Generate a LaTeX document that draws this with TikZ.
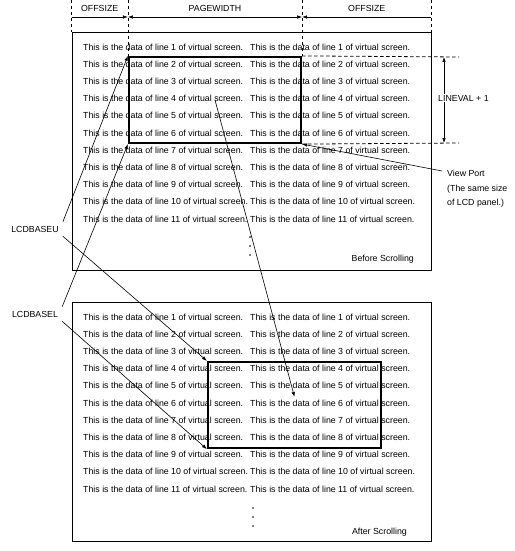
\documentclass[tikz,border=0pt]{standalone}
\usepackage{fontspec}
\setmainfont{Liberation Sans}
\usetikzlibrary{arrows.meta,positioning,calc}
\newcommand{\datafont}{\fontsize{8.8}{10}\selectfont}
\tikzset{
  panel/.style={draw,line width=0.9pt,minimum width=359pt,minimum height=238pt,
                inner sep=0pt},
  viewbox/.style={draw,line width=2.2pt,minimum width=172pt,minimum height=86pt,
                  inner sep=0pt},
  dataline/.style={anchor=west,inner sep=0pt,font=\datafont},
  lbl/.style={font=\datafont,inner sep=2pt},
  guide/.style={dash pattern=on 3.5pt off 2.5pt,line width=0.8pt},
  arr/.style={-{Latex[length=5pt,width=3.5pt]},line width=0.6pt},
  arrb/.style={{Latex[length=5pt,width=3.5pt]}-{Latex[length=5pt,width=3.5pt]},
               line width=0.6pt},
}

\begin{document}
\begin{tikzpicture}[x=1pt,y=-1pt]
  \useasboundingbox (0,0) rectangle (514,551);
  % panels and view ports
  \node[panel] (before) at (251.5,151) {};
  \node[panel,minimum height=239pt] (after) at (251.5,421.5) {};
  \node[viewbox] (vtop) at (215,100) {};
  \node[viewbox,minimum width=173pt] (vbot) at (294.5,405) {};

  % virtual screen data
  \foreach \n in {1,...,11}{
    \node[dataline] (btl\n) at (83,{47+(\n-1)*17.2})
      {This is the data of line {\n} of virtual screen.};
    \node[dataline] (btr\n) at (250,{47+(\n-1)*17.2})
      {This is the data of line {\n} of virtual screen.};
    \node[dataline] (atl\n) at (83,{317+(\n-1)*17.2})
      {This is the data of line {\n} of virtual screen.};
    \node[dataline] (atr\n) at (250,{317+(\n-1)*17.2})
      {This is the data of line {\n} of virtual screen.};
  }
  \foreach \y in {0,9,18}{
    \fill (250,237+\y) circle (0.9pt);
    \fill (253,508+\y) circle (0.9pt);
  }
  \node[lbl,anchor=east] (bscroll) at (416,259) {Before Scrolling};
  \node[lbl,anchor=east] (ascroll) at (409,532) {After Scrolling};

  % dimensions on top
  \coordinate (d0) at (before.north west |- 0,17);
  \coordinate (d1) at (vtop.north west |- 0,17);
  \coordinate (d2) at (vtop.north east |- 0,17);
  \coordinate (d3) at (before.north east |- 0,17);
  \draw[guide] (before.north west |- 0,0) -- (before.north west);
  \draw[guide] (vtop.north west |- 0,0) -- (vtop.north west);
  \draw[guide] (vtop.north east |- 0,0) -- (vtop.north east);
  \draw[guide] (before.north east |- 0,0) -- (before.north east);
  \draw[arr] (d0) -- (d1);
  \draw[arrb] (d1) -- (d2);
  \draw[arr] (d3) -- (d2);
  \node[lbl] (offl) at ($(d0)!0.5!(d1)+(0,-9)$) {OFFSIZE};
  \node[lbl] (pagew) at ($(d1)!0.5!(d2)+(0,-9)$) {PAGEWIDTH};
  \node[lbl] (offr) at ($(d2)!0.5!(d3)+(0,-9)$) {OFFSIZE};

  % view port height
  \coordinate (h0) at (459,57);
  \coordinate (h1) at (459,143);
  \draw[guide] (vtop.north east) -- (h0);
  \draw[guide] (vtop.south east) -- (h1);
  \draw[arrb] (444,57) -- (444,143);
  \node[lbl,anchor=west,fill=white,inner sep=1pt] (lineval) at (437,98) {LINEVAL + 1};

  % view port label
  \node[lbl,anchor=north west,align=left,font=\fontsize{8.8}{14.5}\selectfont]
    (portlbl) at (445,168) {View Port\\(The same size\\of LCD panel.)};
  \draw[arr] ([xshift=-3pt,yshift=-3pt]portlbl.north west) -- (vtop.south east);

  % base address labels
  \node[lbl,inner sep=4pt] (baseu) at (35,229) {LCDBASEU};
  \node[lbl,inner sep=4pt] (basel) at (35,314) {LCDBASEL};
  \draw[arr] (baseu.north east) -- (vtop.north west);
  \draw[arr] (baseu.south east) -- (vbot.north west);
  \draw[arr] (basel.north east) -- (vtop.south west);
  \draw[arr] (basel.south east) -- (vbot.south west);

  % scrolling move
  \draw[arr] (vtop.center) -- ([yshift=8pt]vbot.center);
\end{tikzpicture}
\end{document}
